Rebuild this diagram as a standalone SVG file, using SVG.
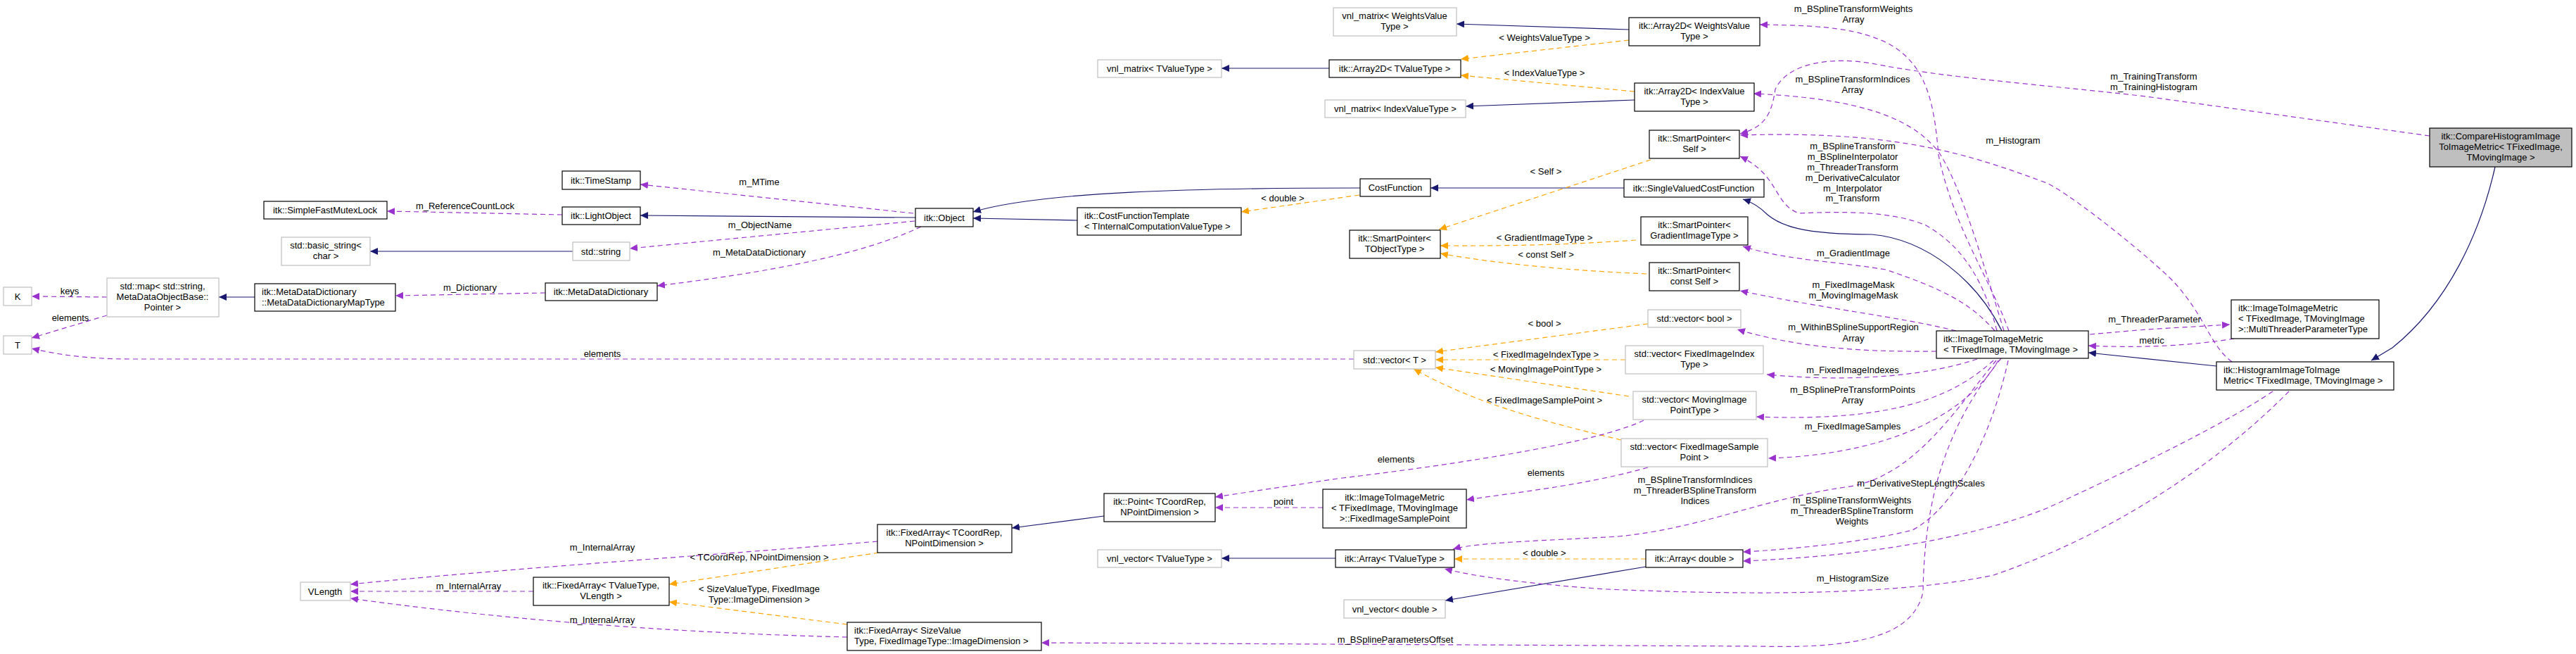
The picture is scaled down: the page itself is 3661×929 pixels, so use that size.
<svg xmlns="http://www.w3.org/2000/svg" width="3661" height="929" viewBox="0 0 3661 929">
<style>
text{font-family:"Liberation Sans",Arial,sans-serif;font-size:13px;fill:#000}
.n{fill:#fff;stroke:#000;stroke-width:1.2}
.g{fill:#fff;stroke:#bfbfbf;stroke-width:1.2}
.m{fill:#bfbfbf;stroke:#000;stroke-width:1.2}
.c text{text-anchor:middle}
.l text{text-anchor:start}
.inh{fill:none;stroke:#191970;stroke-width:1.2;marker-end:url(#ai)}
.use{fill:none;stroke:#9a32cd;stroke-width:1.2;stroke-dasharray:7,5;marker-end:url(#au)}
.tpl{fill:none;stroke:#ffa500;stroke-width:1.2;stroke-dasharray:7,5;marker-end:url(#at)}
.lab{text-anchor:middle}
</style>
<defs>
<marker id="ai" markerUnits="userSpaceOnUse" markerWidth="12" markerHeight="10" refX="11" refY="5" orient="auto"><path d="M0,0 L11,5 L0,10 z" fill="#191970"/></marker>
<marker id="au" markerUnits="userSpaceOnUse" markerWidth="12" markerHeight="10" refX="11" refY="5" orient="auto"><path d="M0,0 L11,5 L0,10 z" fill="#9a32cd"/></marker>
<marker id="at" markerUnits="userSpaceOnUse" markerWidth="12" markerHeight="10" refX="11" refY="5" orient="auto"><path d="M0,0 L11,5 L0,10 z" fill="#ffa500"/></marker>
</defs>
<rect width="3661" height="929" fill="#fff"/>
<g id="connectors">
<path class="inh" d="M1301,309 L910,306"/>
<path class="inh" d="M1933,267 C1700,267 1480,272 1383,301"/>
<path class="inh" d="M1531,313 L1383,310"/>
<path class="inh" d="M814,357 L526,357"/>
<path class="inh" d="M362,422 L311,422"/>
<path class="inh" d="M1889,97 L1736,97"/>
<path class="inh" d="M2315,42 L2070,34"/>
<path class="inh" d="M2323,142 L2083,151"/>
<path class="inh" d="M2308,267 L2033,267"/>
<path class="inh" d="M2845,470 C2810,400 2740,340 2660,333 C2560,333 2530,320 2512,305 C2500,293 2490,287 2477,283"/>
<path class="inh" d="M3150,520 L2968,501"/>
<path class="inh" d="M3546,237 C3525,330 3480,430 3400,494 L3370,512"/>
<path class="inh" d="M1569,733 L1438,750"/>
<path class="inh" d="M1898,793 L1736,793"/>
<path class="inh" d="M2339,805 L2054,853"/>
<path class="tpl" d="M1932,277 L1764,301"/>
<path class="tpl" d="M2315,57 L2076,84"/>
<path class="tpl" d="M2323,130 L2076,107"/>
<path class="tpl" d="M2346,227 L2045,326"/>
<path class="tpl" d="M2325,341 C2200,350 2100,349 2047,349"/>
<path class="tpl" d="M2340,389 C2200,383 2100,370 2047,360"/>
<path class="tpl" d="M2342,460 L2040,500"/>
<path class="tpl" d="M2310,511 L2040,511"/>
<path class="tpl" d="M2315,563 L2040,522"/>
<path class="tpl" d="M2304,625 C2200,600 2100,575 2009,524"/>
<path class="tpl" d="M2339,794 L2067,794"/>
<path class="tpl" d="M1249,785 L951,830"/>
<path class="tpl" d="M1204,887 L951,855"/>
<path class="use" d="M799,305 L550,300"/>
<path class="use" d="M1298,303 L910,262"/>
<path class="use" d="M1300,314 L895,353"/>
<path class="use" d="M1309,322 C1250,350 1150,380 934,406"/>
<path class="use" d="M775,416 L562,420"/>
<path class="use" d="M152,422 L45,421"/>
<path class="use" d="M152,448 L45,480"/>
<path class="use" d="M1924,510 L187,510 C120,510 80,503 45,495"/>
<path class="use" d="M1247,769 C1000,790 750,805 498,830"/>
<path class="use" d="M758,840 L498,840"/>
<path class="use" d="M1204,905 C1000,900 750,885 498,850"/>
<path class="use" d="M2336,597 C2290,620 2150,650 1900,680 L1727,706"/>
<path class="use" d="M1880,721 L1727,721"/>
<path class="use" d="M2342,664 C2250,690 2150,700 2084,710"/>
<path class="use" d="M2844,509 C2770,600 2735,700 2733,841 C2720,900 2650,922 2500,918 L1480,913"/>
<path class="use" d="M2837,512 C2780,580 2720,680 2622,692 C2500,710 2420,750 2300,762 C2200,768 2100,770 2065,780"/>
<path class="use" d="M3253,556 C3150,660 3000,760 2833,817 C2700,845 2500,846 2283,837 C2180,830 2100,820 2053,808"/>
<path class="use" d="M3230,556 C3150,610 3000,680 2909,722 C2800,765 2650,790 2477,797"/>
<path class="use" d="M2854,512 C2830,620 2780,720 2718,753 C2650,770 2550,780 2477,784"/>
<path class="use" d="M2855,470 C2830,400 2775,320 2755,220 C2749,150 2740,90 2680,60 C2640,42 2600,36 2501,35"/>
<path class="use" d="M2848,470 C2820,380 2790,270 2756,217 C2720,170 2650,140 2492,133"/>
<path class="use" d="M3453,193 L3050,137 C2900,120 2760,110 2660,90 C2600,80 2540,90 2523,127 C2518,160 2510,180 2473,190"/>
<path class="use" d="M3172,514 C3140,490 3135,450 3089,400 C3060,370 2950,280 2909,260 C2800,220 2700,185 2473,192"/>
<path class="use" d="M2838,470 C2820,400 2790,350 2737,320 C2690,300 2620,300 2557,303 C2520,290 2530,250 2473,222"/>
<path class="use" d="M2835,470 C2800,430 2760,410 2680,383 C2600,370 2540,370 2477,350"/>
<path class="use" d="M2780,470 C2700,450 2600,440 2473,413"/>
<path class="use" d="M2752,499 C2650,500 2560,495 2469,468"/>
<path class="use" d="M2810,510 C2750,530 2650,545 2511,532"/>
<path class="use" d="M2833,512 C2780,560 2700,600 2496,592"/>
<path class="use" d="M2840,512 C2800,580 2700,645 2513,651"/>
<path class="use" d="M2970,475 L3050,468 L3169,461"/>
<path class="use" d="M3175,481 C3120,490 3050,495 2968,491"/>
<g class="lab">
<text x="1823" y="286">&lt; double &gt;</text>
<text x="2195" y="58">&lt; WeightsValueType &gt;</text>
<text x="2195" y="108">&lt; IndexValueType &gt;</text>
<text x="2197" y="248">&lt; Self &gt;</text>
<text x="2195" y="342">&lt; GradientImageType &gt;</text>
<text x="2197" y="366">&lt; const Self &gt;</text>
<text x="2195" y="464">&lt; bool &gt;</text>
<text x="2197" y="508">&lt; FixedImageIndexType &gt;</text>
<text x="2197" y="529">&lt; MovingImagePointType &gt;</text>
<text x="2195" y="573">&lt; FixedImageSamplePoint &gt;</text>
<text x="2195" y="790">&lt; double &gt;</text>
<text x="1079" y="796">&lt; TCoordRep, NPointDimension &gt;</text>
<text x="1079" y="841">&lt; SizeValueType, FixedImage</text>
<text x="1079" y="856">Type::ImageDimension &gt;</text>
<text x="661" y="297">m_ReferenceCountLock</text>
<text x="1079" y="263">m_MTime</text>
<text x="1080" y="324">m_ObjectName</text>
<text x="1079" y="363">m_MetaDataDictionary</text>
<text x="668" y="413">m_Dictionary</text>
<text x="99" y="418">keys</text>
<text x="100" y="456">elements</text>
<text x="856" y="507">elements</text>
<text x="856" y="782">m_InternalArray</text>
<text x="666" y="837">m_InternalArray</text>
<text x="856" y="885">m_InternalArray</text>
<text x="1984" y="657">elements</text>
<text x="1824" y="717">point</text>
<text x="2197" y="676">elements</text>
<text x="1983" y="913">m_BSplineParametersOffset</text>
<text x="2409" y="686">m_BSplineTransformIndices</text>
<text x="2409" y="701">m_ThreaderBSplineTransform</text>
<text x="2409" y="716">Indices</text>
<text x="2633" y="826">m_HistogramSize</text>
<text x="2730" y="691">m_DerivativeStepLengthScales</text>
<text x="2632" y="715">m_BSplineTransformWeights</text>
<text x="2632" y="730">m_ThreaderBSplineTransform</text>
<text x="2632" y="745">Weights</text>
<text x="2634" y="17">m_BSplineTransformWeights</text>
<text x="2634" y="32">Array</text>
<text x="2633" y="117">m_BSplineTransformIndices</text>
<text x="2633" y="132">Array</text>
<text x="3061" y="113">m_TrainingTransform</text>
<text x="3061" y="128">m_TrainingHistogram</text>
<text x="2861" y="204">m_Histogram</text>
<text x="2633" y="212">m_BSplineTransform</text>
<text x="2633" y="227">m_BSplineInterpolator</text>
<text x="2633" y="242">m_ThreaderTransform</text>
<text x="2633" y="257">m_DerivativeCalculator</text>
<text x="2633" y="272">m_Interpolator</text>
<text x="2633" y="286">m_Transform</text>
<text x="2634" y="364">m_GradientImage</text>
<text x="2634" y="409">m_FixedImageMask</text>
<text x="2634" y="424">m_MovingImageMask</text>
<text x="2634" y="469">m_WithinBSplineSupportRegion</text>
<text x="2634" y="485">Array</text>
<text x="2633" y="530">m_FixedImageIndexes</text>
<text x="2633" y="558">m_BSplinePreTransformPoints</text>
<text x="2633" y="573">Array</text>
<text x="2633" y="610">m_FixedImageSamples</text>
<text x="3062" y="458">m_ThreaderParameter</text>
<text x="3058" y="488">metric</text>
</g>
</g>
<g id="n_sfml" class="c"><rect class="n" x="375" y="286" width="175" height="25"/><text x="462" y="303">itk::SimpleFastMutexLock</text></g>
<g id="n_bstr" class="c"><rect class="g" x="400" y="337" width="126" height="40"/><text x="463" y="353">std::basic_string&lt;</text><text x="463" y="368">char &gt;</text></g>
<g id="n_map" class="c"><rect class="g" x="152" y="395" width="159" height="55"/><text x="231" y="411">std::map&lt; std::string,</text><text x="231" y="426">MetaDataObjectBase::</text><text x="231" y="441">Pointer &gt;</text></g>
<g id="n_maptype" class="l"><rect class="n" x="362" y="403" width="200" height="39"/><text x="372" y="419">itk::MetaDataDictionary</text><text x="372" y="434">::MetaDataDictionaryMapType</text></g>
<g id="n_K" class="c"><rect class="g" x="5" y="408" width="40" height="26"/><text x="25" y="426">K</text></g>
<g id="n_T" class="c"><rect class="g" x="5" y="477" width="40" height="26"/><text x="25" y="495">T</text></g>
<g id="n_vlen" class="c"><rect class="g" x="427" y="827" width="71" height="26"/><text x="462" y="845">VLength</text></g>
<g id="n_ts" class="c"><rect class="n" x="799" y="243" width="111" height="26"/><text x="854" y="261">itk::TimeStamp</text></g>
<g id="n_lo" class="c"><rect class="n" x="799" y="294" width="111" height="25"/><text x="854" y="311">itk::LightObject</text></g>
<g id="n_str" class="c"><rect class="g" x="814" y="344" width="81" height="26"/><text x="854" y="362">std::string</text></g>
<g id="n_mdd" class="c"><rect class="n" x="775" y="402" width="159" height="25"/><text x="854" y="419">itk::MetaDataDictionary</text></g>
<g id="n_obj" class="c"><rect class="n" x="1301" y="296" width="82" height="26"/><text x="1342" y="314">itk::Object</text></g>
<g id="n_fatc" class="c"><rect class="n" x="1247" y="745" width="191" height="40"/><text x="1342" y="761">itk::FixedArray&lt; TCoordRep,</text><text x="1342" y="776">NPointDimension &gt;</text></g>
<g id="n_fav" class="c"><rect class="n" x="758" y="820" width="193" height="40"/><text x="854" y="836">itk::FixedArray&lt; TValueType,</text><text x="854" y="851">VLength &gt;</text></g>
<g id="n_fas" class="l"><rect class="n" x="1204" y="884" width="276" height="40"/><text x="1214" y="900">itk::FixedArray&lt; SizeValue</text><text x="1214" y="915">Type, FixedImageType::ImageDimension &gt;</text></g>
<g id="n_vmt" class="c"><rect class="g" x="1560" y="85" width="176" height="25"/><text x="1648" y="102">vnl_matrix&lt; TValueType &gt;</text></g>
<g id="n_cft" class="l"><rect class="n" x="1531" y="295" width="233" height="39"/><text x="1541" y="311">itk::CostFunctionTemplate</text><text x="1541" y="326">&lt; TInternalComputationValueType &gt;</text></g>
<g id="n_vmw" class="c"><rect class="g" x="1895" y="11" width="175" height="40"/><text x="1982" y="27">vnl_matrix&lt; WeightsValue</text><text x="1982" y="42">Type &gt;</text></g>
<g id="n_a2t" class="c"><rect class="n" x="1889" y="85" width="187" height="25"/><text x="1982" y="102">itk::Array2D&lt; TValueType &gt;</text></g>
<g id="n_vmi" class="c"><rect class="g" x="1883" y="142" width="200" height="25"/><text x="1983" y="159">vnl_matrix&lt; IndexValueType &gt;</text></g>
<g id="n_cf" class="c"><rect class="n" x="1933" y="254" width="100" height="25"/><text x="1983" y="271">CostFunction</text></g>
<g id="n_spt" class="c"><rect class="n" x="1918" y="327" width="129" height="40"/><text x="1982" y="343">itk::SmartPointer&lt;</text><text x="1982" y="358">TObjectType &gt;</text></g>
<g id="n_a2w" class="c"><rect class="n" x="2315" y="25" width="186" height="40"/><text x="2408" y="41">itk::Array2D&lt; WeightsValue</text><text x="2408" y="56">Type &gt;</text></g>
<g id="n_a2i" class="c"><rect class="n" x="2323" y="118" width="170" height="40"/><text x="2408" y="134">itk::Array2D&lt; IndexValue</text><text x="2408" y="149">Type &gt;</text></g>
<g id="n_sps" class="c"><rect class="n" x="2344" y="185" width="128" height="40"/><text x="2408" y="201">itk::SmartPointer&lt;</text><text x="2408" y="216">Self &gt;</text></g>
<g id="n_svcf" class="c"><rect class="n" x="2308" y="255" width="199" height="25"/><text x="2407" y="272">itk::SingleValuedCostFunction</text></g>
<g id="n_spg" class="c"><rect class="n" x="2332" y="308" width="152" height="40"/><text x="2408" y="324">itk::SmartPointer&lt;</text><text x="2408" y="339">GradientImageType &gt;</text></g>
<g id="n_spc" class="c"><rect class="n" x="2344" y="373" width="128" height="40"/><text x="2408" y="389">itk::SmartPointer&lt;</text><text x="2408" y="404">const Self &gt;</text></g>
<g id="n_vb" class="c"><rect class="g" x="2342" y="440" width="132" height="25"/><text x="2408" y="457">std::vector&lt; bool &gt;</text></g>
<g id="n_vt" class="c"><rect class="g" x="1924" y="498" width="116" height="26"/><text x="1982" y="516">std::vector&lt; T &gt;</text></g>
<g id="n_vfi" class="c"><rect class="g" x="2310" y="491" width="196" height="40"/><text x="2408" y="507">std::vector&lt; FixedImageIndex</text><text x="2408" y="522">Type &gt;</text></g>
<g id="n_vmp" class="c"><rect class="g" x="2321" y="556" width="175" height="40"/><text x="2408" y="572">std::vector&lt; MovingImage</text><text x="2408" y="587">PointType &gt;</text></g>
<g id="n_vfs" class="c"><rect class="g" x="2304" y="623" width="208" height="40"/><text x="2408" y="639">std::vector&lt; FixedImageSample</text><text x="2408" y="654">Point &gt;</text></g>
<g id="n_fisp" class="c"><rect class="n" x="1880" y="695" width="204" height="55"/><text x="1982" y="711">itk::ImageToImageMetric</text><text x="1982" y="726">&lt; TFixedImage, TMovingImage</text><text x="1982" y="741">&gt;::FixedImageSamplePoint</text></g>
<g id="n_pt" class="c"><rect class="n" x="1569" y="701" width="158" height="40"/><text x="1648" y="717">itk::Point&lt; TCoordRep,</text><text x="1648" y="732">NPointDimension &gt;</text></g>
<g id="n_at" class="c"><rect class="n" x="1898" y="781" width="169" height="25"/><text x="1982" y="798">itk::Array&lt; TValueType &gt;</text></g>
<g id="n_ad" class="c"><rect class="n" x="2339" y="781" width="138" height="25"/><text x="2408" y="798">itk::Array&lt; double &gt;</text></g>
<g id="n_vvt" class="c"><rect class="g" x="1560" y="781" width="176" height="25"/><text x="1648" y="798">vnl_vector&lt; TValueType &gt;</text></g>
<g id="n_vvd" class="c"><rect class="g" x="1910" y="852" width="144" height="26"/><text x="1982" y="870">vnl_vector&lt; double &gt;</text></g>
<g id="n_iim" class="l"><rect class="n" x="2752" y="470" width="216" height="39"/><text x="2762" y="486">itk::ImageToImageMetric</text><text x="2762" y="501">&lt; TFixedImage, TMovingImage &gt;</text></g>
<g id="n_cmp" class="c"><rect class="m" x="3453" y="182" width="202" height="55"/><text x="3554" y="198">itk::CompareHistogramImage</text><text x="3554" y="213">ToImageMetric&lt; TFixedImage,</text><text x="3554" y="228">TMovingImage &gt;</text></g>
<g id="n_mtp" class="l"><rect class="n" x="3171" y="426" width="210" height="55"/><text x="3181" y="442">itk::ImageToImageMetric</text><text x="3181" y="457">&lt; TFixedImage, TMovingImage</text><text x="3181" y="472"> &gt;::MultiThreaderParameterType</text></g>
<g id="n_him" class="l"><rect class="n" x="3150" y="514" width="252" height="40"/><text x="3160" y="530">itk::HistogramImageToImage</text><text x="3160" y="545">Metric&lt; TFixedImage, TMovingImage &gt;</text></g>
</svg>
